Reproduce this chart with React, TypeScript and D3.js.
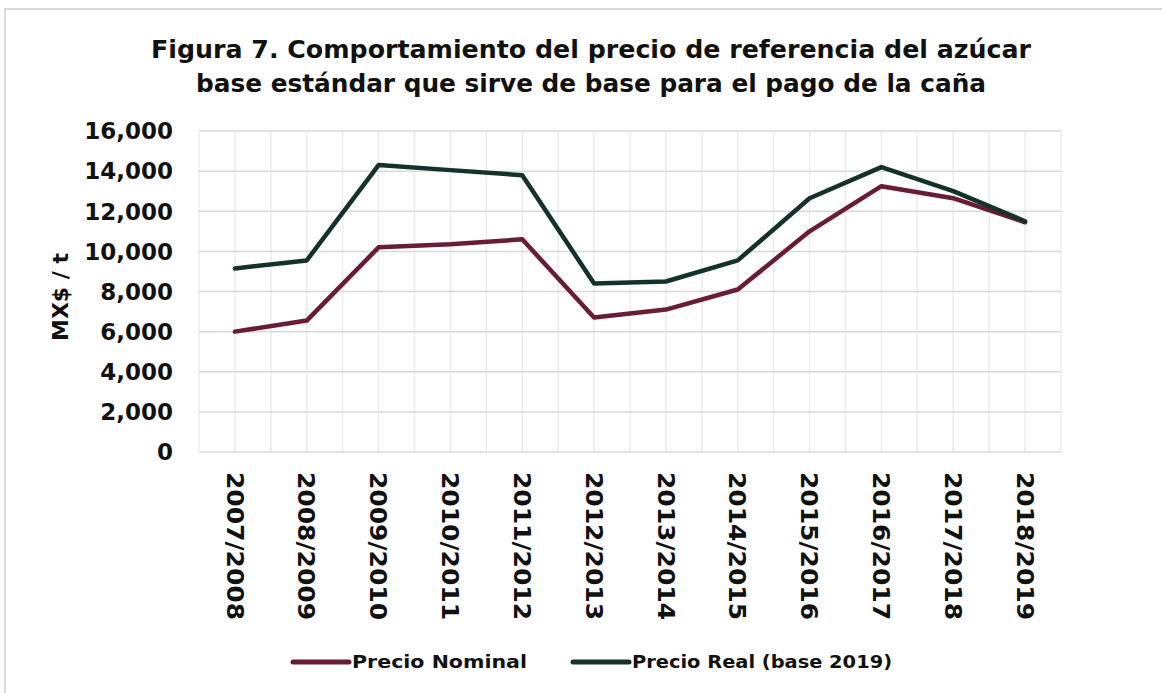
import * as d3 from "d3";

const categories = [
  "2007/2008", "2008/2009", "2009/2010", "2010/2011", "2011/2012", "2012/2013",
  "2013/2014", "2014/2015", "2015/2016", "2016/2017", "2017/2018", "2018/2019",
];
const precioNominal = [6000, 6550, 10200, 10350, 10600, 6700, 7100, 8100, 11000, 13250, 12650, 11450];
const precioReal = [9150, 9550, 14300, 14050, 13800, 8400, 8500, 9550, 12650, 14200, 13000, 11500];
const yTicks = [0, 2000, 4000, 6000, 8000, 10000, 12000, 14000, 16000];
const titleLines = [
  "Figura 7. Comportamiento del precio de referencia del azúcar",
  "base estándar que sirve de base para el pago de la caña",
];
const series = [
  { name: "Precio Nominal", values: precioNominal, color: "#691c32" },
  { name: "Precio Real (base 2019)", values: precioReal, color: "#13322b" },
];

const width = 1162;
const height = 693;
const marginLeft = 199;
const marginRight = 101;
const marginTop = 131;
const marginBottom = 241;
const font = "'DejaVu Sans', sans-serif";

export default function App() {
  const x = d3.scaleBand(categories, [marginLeft, width - marginRight]);
  const y = d3.scaleLinear([0, 16000], [height - marginBottom, marginTop]);
  const cx = (c: string) => (x(c) ?? 0) + x.bandwidth() / 2;
  // excel-ish vertical grid: band edges plus band centers
  const vGrid = d3.range(categories.length * 2 + 1).map((i) => marginLeft + (i * x.step()) / 2);
  const fmt = d3.format(",");

  const legendX = [291, 571];

  return (
    <svg width={width} height={height} style={{ position: "absolute", left: 0, top: 0, background: "#fff" }}>
      <rect x={5} y={9} width={width} height={height} fill="#fff" stroke="#d9d9d9" strokeWidth={2} />

      {titleLines.map((t, i) => (
        <text key={i} x={591} y={58 + i * 34} textAnchor="middle" fontFamily={font} fontWeight="bold"
          fontSize={25} fill="#111" textLength={i === 0 ? 880 : 790} lengthAdjust="spacingAndGlyphs">{t}</text>
      ))}

      <g>
        {vGrid.map((gx, i) => (
          <line key={i} x1={gx} x2={gx} y1={y(16000)} y2={y(0)} stroke="#ececec" strokeWidth={1.5} />
        ))}
        {yTicks.map((t) => (
          <line key={t} x1={marginLeft} x2={width - marginRight} y1={y(t)} y2={y(t)} stroke="#d9d9d9" strokeWidth={1.5} />
        ))}
      </g>

      {yTicks.map((t) => (
        <text key={t} x={173} y={y(t)} dy="0.36em" textAnchor="end" fontFamily={font} fontWeight="bold"
          fontSize={23} fill="#111">{fmt(t)}</text>
      ))}

      <text transform={`translate(68,${297}) rotate(-90)`} textAnchor="middle" fontFamily={font}
        fontWeight="bold" fontSize={22} fill="#111">MX$ / t</text>

      {categories.map((c) => (
        <text key={c} transform={`translate(${cx(c)},${472}) rotate(90)`} dy="0.36em" fontFamily={font}
          fontWeight="bold" fontSize={23} fill="#111" textLength={148} lengthAdjust="spacingAndGlyphs">{c}</text>
      ))}

      {series.map((s) => {
        const line = d3.line<number>((d, i) => cx(categories[i]), (d) => y(d));
        return (
          <path key={s.name} d={line(s.values) ?? ""} fill="none" stroke={s.color} strokeWidth={4.5}
            strokeLinejoin="round" strokeLinecap="round" />
        );
      })}

      {series.map((s, i) => (
        <g key={s.name} transform={`translate(${legendX[i]},662)`}>
          <line x1={2} x2={58} y1={0} y2={0} stroke={s.color} strokeWidth={5} strokeLinecap="round" />
          <text x={61} y={0} dy="0.36em" fontFamily={font} fontWeight="bold" fontSize={18} fill="#111"
            textLength={i === 0 ? 175 : 260} lengthAdjust="spacingAndGlyphs">{s.name}</text>
        </g>
      ))}
    </svg>
  );
}
